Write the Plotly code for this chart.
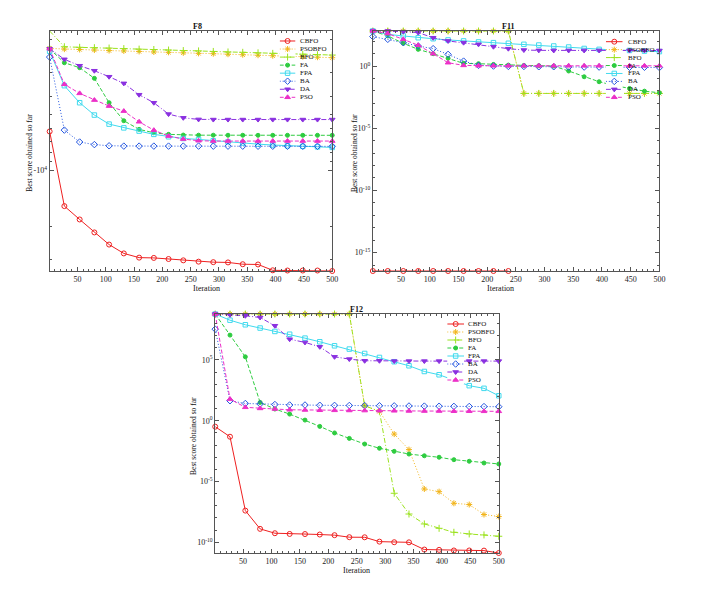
import math
import plotly.graph_objects as go

W, H = 703, 596
OFF = 8  # page body margin offset of the rendered figure

# ---------------- data ----------------
ITER = [1, 27, 54, 80, 106, 132, 159, 185, 211, 237, 264, 290, 316, 342, 369, 395, 421, 448, 474, 500]
ALGOS = ["CBFO", "PSOBFO", "BFO", "FA", "FPA", "BA", "DA", "PSO"]

# F8 (negative values, shown on a log scale of magnitude)
F8_CBFO = [-6200, -15600, -18400, -21600, -25100, -28000, -29500, -29600, -30000, -30500,
           -31000, -31200, -31300, -32000, -32100, -34500, -34600, -34600, -34600, -34800]
F8_PSOBFO = [-2220, -2240, -2250, -2265, -2280, -2290, -2305, -2320, -2330, -2345,
             -2360, -2370, -2385, -2400, -2415, -2430, -2445, -2460, -2475, -2490]
F8_BFO = [-1790, -2175, -2190, -2200, -2210, -2225, -2240, -2250, -2265, -2280,
          -2290, -2305, -2320, -2330, -2345, -2360, -2370, -2385, -2400, -2410]
F8_FA = [-2230, -2650, -2818, -3214, -4345, -5430, -6040, -6300, -6425, -6480,
         -6490, -6490, -6495, -6495, -6500, -6500, -6500, -6500, -6500, -6500]
F8_FPA = [-2300, -3520, -4345, -5060, -5660, -5930, -6170, -6425, -6620, -6760,
          -6840, -6950, -7050, -7150, -7250, -7330, -7400, -7450, -7500, -7550]
F8_BA = [-2470, -6095, -7065, -7290, -7400, -7430, -7430, -7430, -7430, -7430,
         -7430, -7435, -7435, -7435, -7440, -7440, -7440, -7445, -7445, -7450]
F8_DA = [-2230, -2540, -2750, -2925, -3150, -3420, -3935, -4345, -5000, -5235,
         -5340, -5350, -5350, -5350, -5350, -5350, -5350, -5350, -5350, -5350]
F8_PSO = [-2230, -3460, -3870, -4205, -4530, -4820, -5500, -6100, -6565, -6810,
          -6950, -6980, -6980, -6980, -6980, -6980, -6980, -6980, -6980, -6980]

# F11 (0 = exact zero, not drawable on a log axis)
F11_CBFO = [3.3e-17] * 10 + [0] * 10
F11_PSOBFO = [660, 660, 660, 660, 660, 660, 660, 660, 660, 660,
              6.3e-3, 6.3e-3, 6.3e-3, 6.3e-3, 6.3e-3, 6.3e-3, 6.3e-3, 6.3e-3, 6.3e-3, 6.3e-3]
F11_BFO = [660, 660, 660, 660, 660, 660, 660, 660, 660, 660,
           6.3e-3, 6.3e-3, 6.3e-3, 6.3e-3, 6.3e-3, 6.3e-3, 6.3e-3, 6.3e-3, 6.3e-3, 6.3e-3]
F11_FA = [660, 263, 68, 22, 9.8, 4.2, 1.65, 1.55, 1.35, 1.2,
          1.13, 1.07, 1.0, 0.40, 0.138, 0.055, 0.0275, 0.0158, 0.0096, 0.0071]
F11_FPA = [660, 355, 263, 190, 158, 126, 105, 87, 76, 68,
           56, 49, 41, 34, 26, 22, 19.5, 18, 16, 14.5]
F11_BA = [234, 141, 76, 41, 25, 8.7, 2.5, 1.13, 1.0, 0.93,
          0.93, 0.88, 0.88, 0.83, 0.83, 0.83, 0.80, 0.80, 0.80, 0.76]
F11_DA = [660, 660, 590, 490, 190, 105, 76, 56, 36, 25,
          19.5, 18.3, 18, 18, 18, 18, 18, 18, 18, 17.8]
F11_PSO = [660, 407, 141, 47, 9.8, 1.86, 1.13, 1.05, 1.05, 1.05,
           1.05, 1.05, 1.05, 1.05, 1.05, 1.05, 1.05, 1.05, 1.05, 1.05]

# F12
F12_CBFO = [0.32, 0.048, 4.0e-8, 1.26e-9, 5.5e-10, 4.8e-10, 4.7e-10, 4.3e-10, 3.8e-10, 2.6e-10,
            2.55e-10, 1.12e-10, 1.0e-10, 0.98e-10, 2.5e-11, 2.35e-11, 2.1e-11, 2.1e-11, 2.05e-11, 1.3e-11]
F12_PSOBFO = [6e8, 6e8, 6e8, 6e8, 6e8, 6e8, 6e8, 6e8, 6e8, 6e8,
              17, 5.9, 0.079, 4.2e-3, 2.4e-6, 1.45e-6, 1.6e-7, 1.26e-7, 1.9e-8, 1.3e-8]
F12_BFO = [6e8, 6e8, 6e8, 6e8, 6e8, 6e8, 6e8, 6e8, 6e8, 6e8,
           17, 5.9, 1.07e-6, 2.1e-8, 3.2e-9, 1.4e-9, 6.6e-10, 4.8e-10, 4.0e-10, 3.1e-10]
F12_FA = [5.9e8, 1.1e7, 1.8e5, 32, 9.1, 3.5, 1.12, 0.34, 0.098, 0.035,
          0.012, 5.4e-3, 3.0e-3, 1.8e-3, 1.3e-3, 9.8e-4, 6.2e-4, 4.6e-4, 3.3e-4, 2.75e-4]
F12_FPA = [5.9e8, 1.86e8, 7.8e7, 4.2e7, 2.2e7, 1.3e7, 6.2e6, 3.1e6, 1.45e6, 7.8e5,
           3.4e5, 1.6e5, 7.1e4, 3.3e4, 1.12e4, 6.0e3, 2.2e3, 760, 460, 112]
F12_BA = [3.4e7, 44, 26, 23.5, 21.4, 19.5, 19.5, 18.6, 18.2, 17.8,
          17.4, 17.0, 16.6, 16.2, 15.8, 15.5, 15.1, 14.8, 14.5, 14.1]
F12_DA = [5.9e8, 5.1e8, 4.3e8, 3.1e8, 6.5e7, 5.1e6, 2.75e6, 1.2e6, 1.8e5, 1.17e5,
          8.5e4, 8.5e4, 8.0e4, 8.0e4, 8.0e4, 8.0e4, 8.0e4, 8.0e4, 8.0e4, 8.0e4]
F12_PSO = [5.9e8, 60, 12.6, 10.2, 9.1, 7.9, 7.6, 7.2, 7.1, 6.9,
           6.8, 6.6, 6.5, 6.3, 6.2, 6.2, 6.0, 6.0, 5.9, 5.9]

X_TICKS = [50, 100, 150, 200, 250, 300, 350, 400, 450, 500]
F8_YTICKS = [1e4]
F8_YTICKTEXT = ["-10<sup>4</sup>"]
F11_YTICKS = [1e0, 1e-5, 1e-10, 1e-15]
F11_YTICKTEXT = ["10<sup>0</sup>", "10<sup>-5</sup>", "10<sup>-10</sup>", "10<sup>-15</sup>"]
F12_YTICKS = [1e5, 1e0, 1e-5, 1e-10]
F12_YTICKTEXT = ["10<sup>5</sup>", "10<sup>0</sup>", "10<sup>-5</sup>", "10<sup>-10</sup>"]

# ---------------- styles ----------------
STYLE = {
    "CBFO":   dict(color="#ee2020", dash="solid",           symbol="circle-open",     size=5),
    "PSOBFO": dict(color="#f2b41a", dash="1px,2px",         symbol="asterisk-open",   size=5),
    "BFO":    dict(color="#9be21e", dash="5px,2px,1px,2px", symbol="cross-thin-open", size=5),
    "FA":     dict(color="#2ecc40", dash="4px,2px",         symbol="circle",          size=4),
    "FPA":    dict(color="#40daee", dash="solid",           symbol="square-open",     size=4.5),
    "BA":     dict(color="#2456e0", dash="1px,2px",         symbol="diamond-open",    size=5),
    "DA":     dict(color="#8a30e0", dash="5px,2px,1px,2px", symbol="triangle-down",   size=5),
    "PSO":    dict(color="#ec30c8", dash="4px,2px",         symbol="triangle-up",     size=5),
}

FONT = "Liberation Serif"
AX_COLOR = "#555555"


def fx(p):
    return (p - OFF) / W


def fy(p):
    return 1 - (p - OFF) / H


panels = [
    dict(title="F8", ax="", data=dict(CBFO=F8_CBFO, PSOBFO=F8_PSOBFO, BFO=F8_BFO, FA=F8_FA,
                                      FPA=F8_FPA, BA=F8_BA, DA=F8_DA, PSO=F8_PSO),
         negative=True, box=(50, 335, 31, 271), yt=F8_YTICKS, ytt=F8_YTICKTEXT,
         leg=dict(x0=282, x1=298, ytop=41, ybot=97.3, tx=300.5), lax="4",
         ytitle_x=29),
    dict(title="F11", ax="2", data=dict(CBFO=F11_CBFO, PSOBFO=F11_PSOBFO, BFO=F11_BFO, FA=F11_FA,
                                        FPA=F11_FPA, BA=F11_BA, DA=F11_DA, PSO=F11_PSO),
         negative=False, box=(376, 665, 31, 271), yt=F11_YTICKS, ytt=F11_YTICKTEXT,
         leg=dict(x0=611, x1=628, ytop=41.7, ybot=97.3, tx=631), lax="5",
         ytitle_x=357),
    dict(title="F12", ax="3", data=dict(CBFO=F12_CBFO, PSOBFO=F12_PSOBFO, BFO=F12_BFO, FA=F12_FA,
                                        FPA=F12_FPA, BA=F12_BA, DA=F12_DA, PSO=F12_PSO),
         negative=False, box=(217, 503, 314, 553), yt=F12_YTICKS, ytt=F12_YTICKTEXT,
         leg=dict(x0=451, x1=468, ytop=324, ybot=380, tx=470), lax="6",
         ytitle_x=195),
]

fig = go.Figure()
annotations = []
layout = {}

for p in panels:
    xa, ya = "x" + p["ax"], "y" + p["ax"]
    x0, x1, y0, y1 = p["box"]
    allvals = []
    for name in ALGOS:
        st = STYLE[name]
        raw = p["data"][name]
        if p["negative"]:
            vals = [-v for v in raw]
        else:
            vals = [v if v > 0 else None for v in raw]
        allvals += [v for v in vals if v is not None]
        fig.add_trace(go.Scatter(
            x=ITER, y=vals, mode="lines+markers", name=name, showlegend=False,
            xaxis=xa, yaxis=ya, cliponaxis=False, connectgaps=False,
            line=dict(color=st["color"], width=1, dash=st["dash"]),
            marker=dict(symbol=st["symbol"], size=st["size"],
                        color=st["color"],
                        line=dict(color=st["color"], width=1)),
        ))
    lo, hi = math.log10(min(allvals)), math.log10(max(allvals))
    yrange = [hi, lo] if p["negative"] else [lo, hi]
    if p["negative"]:
        minor_vals = [m * 10 ** e for e in range(3, 5) for m in range(2, 10)]
    else:
        minor_vals = [10.0 ** e for e in range(math.floor(lo), math.ceil(hi) + 1)]
    common = dict(showline=True, linecolor=AX_COLOR, linewidth=1, mirror="allticks",
                  ticks="inside", tickcolor=AX_COLOR, tickwidth=1, showgrid=False, zeroline=False,
                  tickfont=dict(family=FONT, size=8, color="#222222"))
    layout["xaxis" + p["ax"]] = dict(
        domain=[fx(x0), fx(x1)], anchor=ya, range=[1, 500], tickvals=X_TICKS, ticklen=4,
        minor=dict(ticks="inside", dtick=10, tick0=0, ticklen=2, tickcolor=AX_COLOR),
        **common)
    layout["yaxis" + p["ax"]] = dict(
        domain=[fy(y1), fy(y0)], anchor=xa, type="log", range=yrange,
        tickvals=p["yt"], ticktext=p["ytt"], ticklen=4,
        minor=dict(ticks="inside", tickmode="array", tickvals=minor_vals, ticklen=2, tickcolor=AX_COLOR),
        **common)
    cx = (x0 + x1) / 2
    annotations.append(dict(text="<b>" + p["title"] + "</b>", x=fx(cx), y=fy(y0 - 5),
                            xref="paper", yref="paper", showarrow=False, yanchor="middle",
                            font=dict(family=FONT, size=8, color="#111111")))
    annotations.append(dict(text="Iteration", x=fx(cx), y=fy(y1 + 17), xref="paper", yref="paper",
                            showarrow=False, yanchor="middle",
                            font=dict(family=FONT, size=8, color="#111111")))
    annotations.append(dict(text="Best score obtained so far", x=fx(p["ytitle_x"]),
                            y=fy((y0 + y1) / 2 + 2), xref="paper", yref="paper", showarrow=False,
                            textangle=-90, xanchor="center", yanchor="middle",
                            font=dict(family=FONT, size=7.5, color="#111111")))

    # ---- legend (drawn on a hidden helper axis) ----
    lg = p["leg"]
    n = len(ALGOS)
    step = (lg["ybot"] - lg["ytop"]) / (n - 1)
    lxa, lya = "x" + p["lax"], "y" + p["lax"]
    layout["xaxis" + p["lax"]] = dict(domain=[fx(lg["x0"]), fx(lg["x1"])], anchor=lya,
                                      range=[0, 1], visible=False, fixedrange=True)
    layout["yaxis" + p["lax"]] = dict(domain=[fy(lg["ybot"] + step / 2), fy(lg["ytop"] - step / 2)],
                                      anchor=lxa, range=[n - 0.5, -0.5], visible=False, fixedrange=True)
    for i, name in enumerate(ALGOS):
        st = STYLE[name]
        fig.add_trace(go.Scatter(x=[0, 1], y=[i, i], mode="lines", showlegend=False,
                                 xaxis=lxa, yaxis=lya, cliponaxis=False, hoverinfo="skip",
                                 line=dict(color=st["color"], width=1, dash=st["dash"])))
        fig.add_trace(go.Scatter(x=[0.5], y=[i], mode="markers", showlegend=False,
                                 xaxis=lxa, yaxis=lya, cliponaxis=False, hoverinfo="skip",
                                 marker=dict(symbol=st["symbol"], size=st["size"], color=st["color"],
                                             line=dict(color=st["color"], width=1))))
        annotations.append(dict(text=name, x=fx(lg["tx"]), y=i, xref="paper", yref=lya,
                                xanchor="left", yanchor="middle", showarrow=False,
                                font=dict(family=FONT, size=7, color="#111111")))

fig.update_layout(
    width=W, height=H, autosize=False,
    margin=dict(l=0, r=0, t=0, b=0),
    paper_bgcolor="white", plot_bgcolor="white",
    showlegend=False, annotations=annotations,
    **layout,
)

fig.write_html("out.html")
